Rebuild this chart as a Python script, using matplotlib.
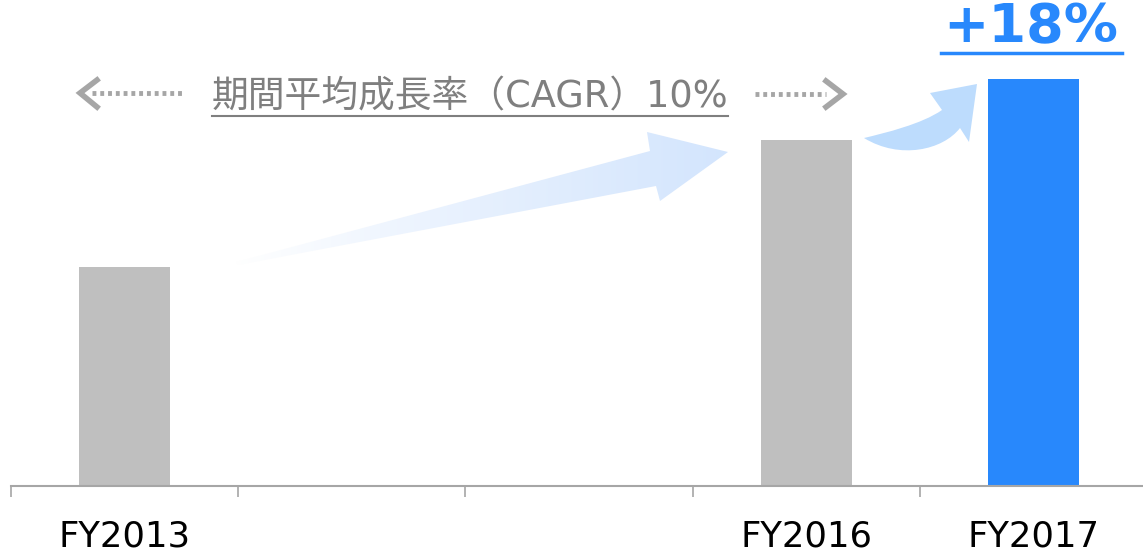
import matplotlib
matplotlib.use("Agg")
import matplotlib.pyplot as plt
import numpy as np
from matplotlib.path import Path
from matplotlib.patches import PathPatch, Polygon
from matplotlib.colors import LinearSegmentedColormap

# data
years = ["FY2013", "FY2014", "FY2015", "FY2016", "FY2017"]
labels = ["FY2013", "", "", "FY2016", "FY2017"]
bar_pos = [0, 3, 4]
bar_vals = [100, 158, 186]
bar_colors = ["#bfbfbf", "#bfbfbf", "#2888fc"]
cagr_text = "期間平均成長率（CAGR）10%"
yoy_text = "+18%"

W, H = 1143, 556
fig = plt.figure(figsize=(W / 100, H / 100), dpi=100)

# main bar axes (pixel-based placement)
ax = fig.add_axes([11 / W, (H - 486) / H, 1136 / W, 486 / H])
ax.bar(bar_pos, bar_vals, width=0.4, color=bar_colors, zorder=2)
ax.set_xlim(-0.5, len(years) - 0.5)
ax.set_ylim(0, 222)
ax.set_xticks(range(len(years)))
ax.set_xticklabels(labels, fontsize=25.5, color="black")
ax.set_xticks(np.arange(-0.5, len(years)), minor=True)
ax.tick_params(axis="x", which="major", length=0, pad=24)
ax.tick_params(axis="x", which="minor", length=8, width=1.2, color="#a6a6a6")
ax.set_yticks([])
for s in ["top", "right", "left"]:
    ax.spines[s].set_visible(False)
ax.spines["bottom"].set_color("#a6a6a6")
ax.spines["bottom"].set_linewidth(1.5)
ax.patch.set_alpha(0)

# overlay in pixel coordinates for the decorations
ov = fig.add_axes([0, 0, 1, 1], zorder=5)
ov.axis("off")
ov.patch.set_alpha(0)

# big gradient arrow FY2013 -> FY2016
big = [(236, 262), (650, 151), (647, 132), (728, 152), (660, 201), (656, 186), (238, 265)]
poly = Polygon(big, closed=True, facecolor="none", edgecolor="none")
ov.add_patch(poly)
cmap = LinearSegmentedColormap.from_list("fade", ["#ffffff", "#e6f0fe", "#d3e5fd"])
grad = np.linspace(0, 1, 256).reshape(1, -1)
im = ov.imshow(grad, cmap=cmap, extent=(230, 730, 270, 125), aspect="auto",
               interpolation="bilinear", zorder=1)
im.set_clip_path(poly)
ov.set_xlim(0, W)
ov.set_ylim(H, 0)

# curved arrow FY2016 -> FY2017
verts = [(864, 138), (885, 133), (922, 124), (942, 110),
         (930, 93), (977, 84), (969, 142), (960, 128),
         (943, 150), (900, 160), (864, 138), (864, 138)]
codes = [Path.MOVETO, Path.CURVE4, Path.CURVE4, Path.CURVE4,
         Path.LINETO, Path.LINETO, Path.LINETO, Path.LINETO,
         Path.CURVE4, Path.CURVE4, Path.CURVE4, Path.CLOSEPOLY]
ov.add_patch(PathPatch(Path(verts, codes), facecolor="#bddcfd", edgecolor="none", zorder=2))

# dotted double arrow with CAGR text
gray = "#a6a6a6"
ov.plot([92, 184], [93, 93], color=gray, lw=3.5, linestyle=(0, (0.8, 0.8)), solid_capstyle="butt")
ov.plot([97, 80, 97], [80, 93, 107], color=gray, lw=4, solid_joinstyle="miter")
ov.plot([755, 826], [94, 94], color=gray, lw=3.5, linestyle=(0, (0.8, 0.8)), solid_capstyle="butt")
ov.plot([826, 843, 826], [81, 94, 107], color=gray, lw=4, solid_joinstyle="miter")

t1 = ov.text(470, 97, cagr_text, fontsize=26.5, color="#7f7f7f", ha="center", va="center",
             family=["DejaVu Sans", "Noto Sans CJK JP"])
t2 = ov.text(1031, 27, yoy_text, fontsize=39, color="#2888fc", ha="center", va="center",
             fontweight="bold", family=["DejaVu Sans"])

# underlines sized from the rendered text
fig.canvas.draw()
r = fig.canvas.get_renderer()
inv = ov.transData.inverted()
b1 = t1.get_window_extent(r)
x0, _ = inv.transform((b1.x0, b1.y0))
x1, _ = inv.transform((b1.x1, b1.y0))
ov.plot([x0, x1], [116, 116], color="#7f7f7f", lw=1.5)
b2 = t2.get_window_extent(r)
x0, _ = inv.transform((b2.x0, b2.y0))
x1, _ = inv.transform((b2.x1, b2.y0))
ov.plot([x0 - 3, x1 + 3], [53, 53], color="#2888fc", lw=2.5)

fig.savefig("out.png", dpi=100)
